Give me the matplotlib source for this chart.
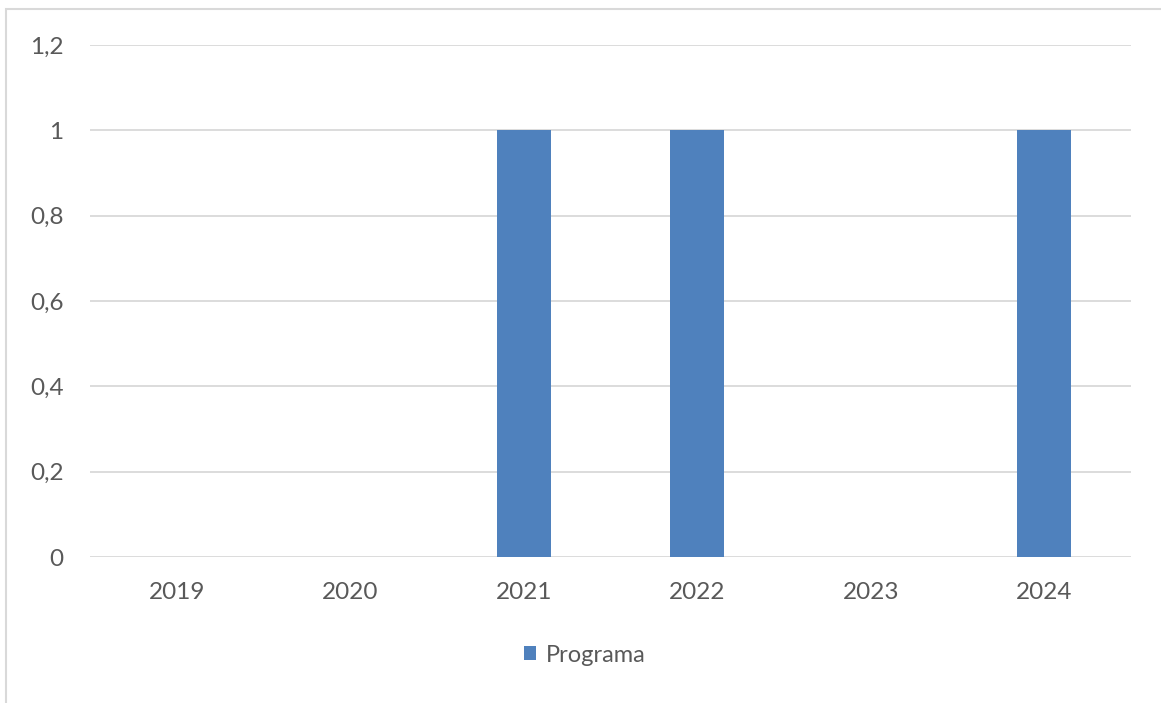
import matplotlib
matplotlib.use("Agg")
import matplotlib.pyplot as plt
from matplotlib.patches import Rectangle

years = ["2019", "2020", "2021", "2022", "2023", "2024"]
programa = [0, 0, 1, 1, 0, 1]
yticks = [0, 0.2, 0.4, 0.6, 0.8, 1.0, 1.2]
ytick_labels = ["0", "0,2", "0,4", "0,6", "0,8", "1", "1,2"]

plt.rcParams['font.family'] = ['Lato', 'DejaVu Sans']

fig = plt.figure(figsize=(11.61, 7.03), dpi=100)
ax = fig.add_axes([90/1161, 1-557/703, (1131-90)/1161, (557-45)/703])

x = list(range(len(years)))
ax.bar(x, programa, width=0.31, color="#4F81BD", label="Programa", zorder=3)

ax.set_xlim(-0.5, 5.5)
ax.set_ylim(0, 1.2)
ax.set_yticks(yticks)
ax.set_yticklabels(ytick_labels)
ax.set_xticks(x)
ax.set_xticklabels(years)
ax.grid(axis='y', color="#D9D9D9", linewidth=1.3, zorder=0)
for s in ax.spines.values():
    s.set_visible(False)
ax.tick_params(axis='both', length=0, labelsize=17.5, labelcolor="#595959")
ax.tick_params(axis='y', pad=19)
ax.tick_params(axis='x', pad=18)

leg = fig.legend(loc='center', bbox_to_anchor=(585/1161, 1-655/703), frameon=False,
                 fontsize=17, handlelength=0.5, handleheight=0.5, handletextpad=0.45,
                 labelcolor="#595959")

# outer chart border
fig.patches.append(Rectangle((6/1161, -0.05), 1.2, 1 - 9/703 + 0.05, transform=fig.transFigure,
                             fill=False, edgecolor="#D9D9D9", linewidth=1.5))

fig.savefig("out.png", dpi=100)
